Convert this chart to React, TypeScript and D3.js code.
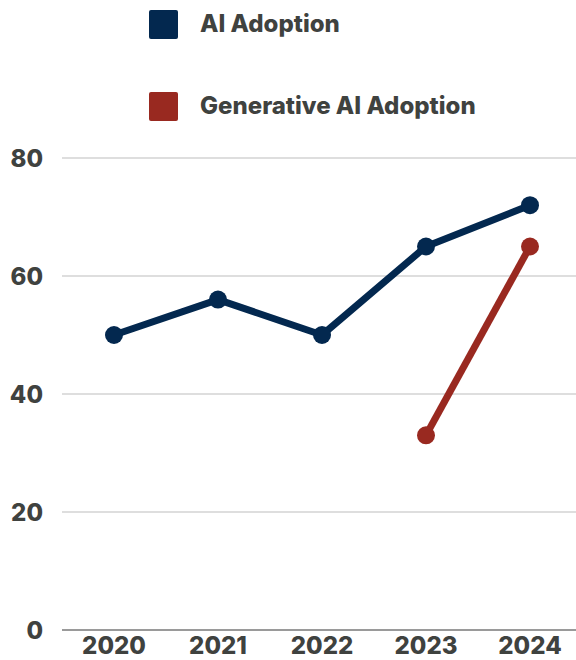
import React from "react";
import * as d3 from "d3";

const years = ["2020", "2021", "2022", "2023", "2024"];
const aiAdoption: (number | null)[] = [50, 56, 50, 65, 72];
const genAiAdoption: (number | null)[] = [null, null, null, 33, 65];
const yTicks = [0, 20, 40, 60, 80];
const seriesNames = ["AI Adoption", "Generative AI Adoption"];
const seriesColors = ["#03284f", "#992920"];

const W = 576;
const H = 660;
const FONT = "Inter, Roboto, 'DejaVu Sans', sans-serif";
const TEXT = "#3f423f";

export default function App() {
  const x = d3.scalePoint<string>().domain(years).range([114, 530]);
  const y = d3.scaleLinear().domain([0, 80]).range([630, 158]);
  const line = d3
    .line<number | null>()
    .defined((d) => d !== null)
    .x((_, i) => x(years[i]) as number)
    .y((d) => y(d as number));

  const series = [aiAdoption, genAiAdoption];

  return (
    <svg
      width={W}
      height={H}
      style={{ position: "absolute", left: 0, top: 0, background: "#fff" }}
      fontFamily={FONT}
    >
      {seriesNames.map((name, i) => (
        <g key={name} transform={`translate(0, ${i * 82})`}>
          <rect x={149} y={10} width={29} height={29} rx={2} fill={seriesColors[i]} />
          <text x={200} y={32} fontSize={24} fontWeight={800} fill={TEXT}>
            {name}
          </text>
        </g>
      ))}

      {yTicks.map((t) => (
        <g key={t}>
          <line
            x1={62}
            x2={576}
            y1={y(t)}
            y2={y(t)}
            stroke={t === 0 ? "#9a9a9a" : "#d3d3d3"}
            strokeWidth={t === 0 ? 2 : 1.5}
          />
          <text
            x={43}
            y={y(t)}
            dy="0.36em"
            textAnchor="end"
            fontSize={24}
            fontWeight={800}
            fill={TEXT}
          >
            {t}
          </text>
        </g>
      ))}

      {years.map((yr) => (
        <text
          key={yr}
          x={x(yr)}
          y={654}
          textAnchor="middle"
          fontSize={24}
          fontWeight={800}
          fill={TEXT}
        >
          {yr}
        </text>
      ))}

      {series.map((s, i) => (
        <g key={i}>
          <path
            d={line(s) || ""}
            fill="none"
            stroke={seriesColors[i]}
            strokeWidth={7}
            strokeLinejoin="round"
          />
          {s.map((v, j) =>
            v === null ? null : (
              <circle key={j} cx={x(years[j])} cy={y(v)} r={9} fill={seriesColors[i]} />
            )
          )}
        </g>
      ))}
    </svg>
  );
}
